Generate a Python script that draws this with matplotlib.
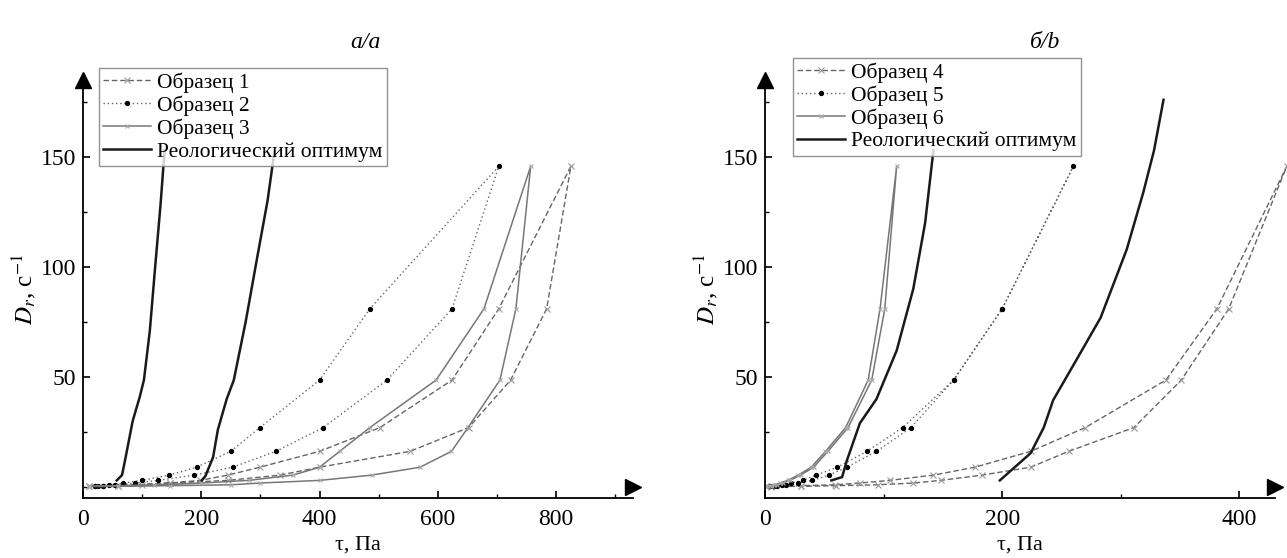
import matplotlib
matplotlib.use("Agg")
import matplotlib.pyplot as plt
from matplotlib.ticker import MultipleLocator

plt.rcParams['font.family'] = ['Liberation Serif', 'DejaVu Serif']
plt.rcParams['mathtext.fontset'] = 'stix'

# ---------------- data: panel a ----------------
s1_x = [10, 60, 100, 147, 198, 245, 299, 400, 502, 624, 703, 825, 784, 723, 652, 553, 400, 333, 245, 147, 60, 10]
s1_y = [0.3, 0.6, 1, 1.8, 3, 5.4, 9, 16.2, 27, 48.6, 81, 145.8, 81, 48.6, 27, 16.2, 9, 5.4, 3, 1.8, 0.6, 0.3]
s2_x = [20, 26, 34, 44, 54, 68, 99, 146, 192, 250, 299, 400, 485, 703, 624, 514, 406, 326, 253, 188, 127, 88, 54, 34, 20]
s2_y = [0.3, 0.5, 0.6, 1, 1, 1.8, 3, 5.4, 9, 16.2, 27, 48.6, 81, 145.8, 81, 48.6, 27, 16.2, 9, 5.4, 3, 1.8, 1, 0.6, 0.3]
s3_x = [10, 60, 120, 200, 280, 355, 400, 434, 485, 597, 678, 757, 732, 705, 651, 623, 570, 488, 400, 299, 250, 147, 60, 10]
s3_y = [0.3, 0.6, 1, 1.8, 3, 5.4, 9, 16.2, 27, 48.6, 81, 145.8, 81, 48.6, 27, 16.2, 9, 5.4, 3, 1.8, 1, 0.6, 0.3, 0.2]
opt_a1_x = [57, 66, 71, 84, 96, 103, 113, 122, 131, 138]
opt_a1_y = [3, 5.4, 12, 30, 41, 48.6, 71, 100, 128, 153]
opt_a2_x = [201, 207, 220, 228, 243, 255, 275, 295, 312, 324]
opt_a2_y = [3, 5, 13.6, 26, 40, 48.6, 75, 105, 130, 153]

# ---------------- data: panel b ----------------
s4_x = [5, 30, 59, 80, 105, 142, 177, 224, 270, 338, 381, 440, 391, 351, 311, 256, 224, 183, 148, 125, 95, 60, 30, 5]
s4_y = [0.3, 0.6, 1, 1.8, 3, 5.4, 9, 16.2, 27, 48.6, 81, 145.8, 81, 48.6, 27, 16.2, 9, 5.4, 3, 1.8, 1, 0.6, 0.3, 0.2]
s5_x = [3, 8, 14, 22, 32, 43, 61, 86, 116, 159, 200, 260, 200, 159, 123, 94, 69, 54, 40, 28, 18, 10, 4]
s5_y = [0.3, 0.6, 1, 1.8, 3, 5.4, 9, 16.2, 27, 48.6, 81, 145.8, 81, 48.6, 27, 16.2, 9, 5.4, 3, 1.8, 1, 0.6, 0.3]
s6_x = [2, 6, 10, 15, 21, 30, 41, 53, 70, 90, 101, 111, 97, 87, 68, 51, 39, 28, 19, 13, 8, 4, 1]
s6_y = [0.3, 0.6, 1, 1.8, 3, 5.4, 9, 16.2, 27, 48.6, 81, 145.8, 81, 48.6, 27, 16.2, 9, 5.4, 3, 1.8, 1, 0.6, 0.3]
opt_b1_x = [56, 65, 69, 80, 94, 111, 125, 135, 142]
opt_b1_y = [3, 4.5, 12, 29, 40, 62, 90, 120, 153]
opt_b2_x = [198, 224, 235, 243, 266, 283, 305, 319, 328, 336]
opt_b2_y = [3, 15.4, 27, 39.5, 61, 77, 108, 134, 153, 176]

labels_a = ['Образец 1', 'Образец 2', 'Образец 3', 'Реологический оптимум']
labels_b = ['Образец 4', 'Образец 5', 'Образец 6', 'Реологический оптимум']

fig = plt.figure(figsize=(12.87, 5.58), dpi=100)
W, H = 1287.0, 558.0

def make_axes(x0px, x1px, xlim):
    ax = fig.add_axes([x0px / W, (H - 498) / H, (x1px - x0px) / W, (498 - 80) / H])
    ax.set_xlim(*xlim)
    ax.set_ylim(-5, 185)
    for s in ['top', 'right']:
        ax.spines[s].set_visible(False)
    for s in ['left', 'bottom']:
        ax.spines[s].set_linewidth(1.3)
    ax.xaxis.set_major_locator(MultipleLocator(200))
    ax.xaxis.set_minor_locator(MultipleLocator(100))
    ax.yaxis.set_minor_locator(MultipleLocator(25))
    ax.set_yticks([50, 100, 150])
    ax.tick_params(which='major', direction='in', length=5, width=1.2, labelsize=17)
    ax.tick_params(axis='x', which='major', pad=8)
    ax.tick_params(axis='y', which='major', pad=5)
    ax.tick_params(which='minor', direction='in', length=3, width=1.0)
    ax.plot(1, 0, '>', color='black', markersize=11, transform=ax.get_yaxis_transform(), clip_on=False)
    ax.plot(0, 1, '^', color='black', markersize=11, transform=ax.get_xaxis_transform(), clip_on=False)
    ax.set_ylabel(r'$D_r$, с$^{-1}$', fontsize=18, labelpad=2)
    ax.set_xlabel('τ, Па', fontsize=16, labelpad=4)
    return ax

def draw(ax, sa, sb, sc, o1, o2, labels, anchor):
    ax.plot(sa[0], sa[1], linestyle=(0, (4, 2)), color='#666666', lw=1.0, marker='x', ms=4,
            mec='#999999', mew=0.8, label=labels[0], clip_on=False)
    ax.plot(sb[0], sb[1], linestyle=(0, (1, 2)), color='#666666', lw=1.0, marker='o', ms=2.8,
            mfc='black', mec='black', label=labels[1], clip_on=False)
    ax.plot(sc[0], sc[1], linestyle='-', color='#777777', lw=1.1, marker='x', ms=3.5,
            mec='#aaaaaa', mew=0.8, label=labels[2], clip_on=False)
    ax.plot(o1[0], o1[1], '-', color='#1a1a1a', lw=1.8, label=labels[3])
    ax.plot(o2[0], o2[1], '-', color='#1a1a1a', lw=1.8)
    leg = ax.legend(loc='upper left', bbox_to_anchor=anchor, fontsize=15.5, frameon=True,
                    fancybox=False, edgecolor='#777777', handlelength=2.2, handletextpad=0.3,
                    labelspacing=0.12, borderpad=0.2, borderaxespad=0, numpoints=1)
    leg.get_frame().set_linewidth(1.0)

axa = make_axes(83, 633, (0, 930))
draw(axa, (s1_x, s1_y), (s2_x, s2_y), (s3_x, s3_y), (opt_a1_x, opt_a1_y), (opt_a2_x, opt_a2_y),
     labels_a, (0.029, 1.029))
axb = make_axes(765, 1275, (0, 430))
draw(axb, (s4_x, s4_y), (s5_x, s5_y), (s6_x, s6_y), (opt_b1_x, opt_b1_y), (opt_b2_x, opt_b2_y),
     labels_b, (0.055, 1.053))

fig.text(365 / W, 1 - 42 / H, 'а/a', fontsize=17, style='italic', ha='center', va='center')
fig.text(1045 / W, 1 - 42 / H, 'б/b', fontsize=17, style='italic', ha='center', va='center')

fig.savefig('out.png', dpi=100)
